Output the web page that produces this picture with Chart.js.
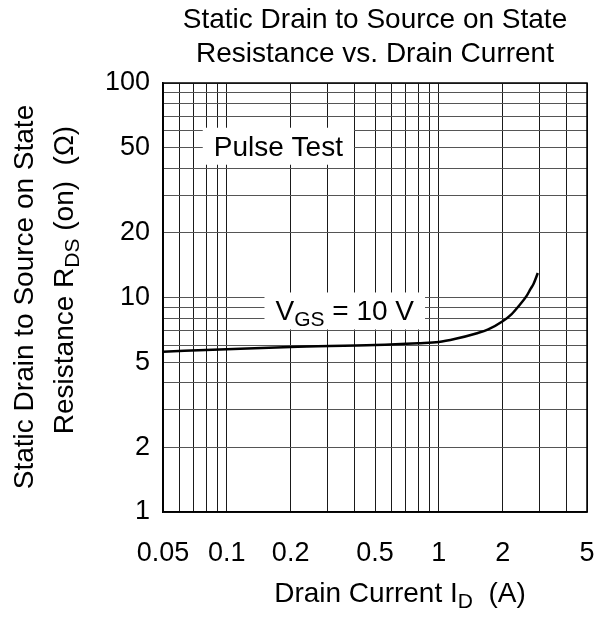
<!DOCTYPE html>
<html>
<head>
<meta charset="utf-8">
<script src="https://cdn.jsdelivr.net/npm/chart.js@4.4.1/dist/chart.umd.min.js"></script>
<style>
  body { margin: 0; background: #fff; }
  canvas { display: block; }
</style>
</head>
<body>
<canvas id="chart" width="606" height="621"></canvas>
<script>
// values (VGS = 10 V)
var drainCurrent = [0.05, 0.1, 0.2, 0.5, 0.8, 1.0, 1.2, 1.5, 1.7, 2.0, 2.2, 2.4, 2.6, 2.7, 2.8, 2.93];
var rdsOn        = [5.59, 5.74, 5.88, 6.0, 6.12, 6.2, 6.42, 6.8, 7.08, 7.75, 8.35, 9.2, 10.2, 10.9, 11.6, 13.0];

var xGridValues = [0.05, 0.06, 0.07, 0.08, 0.09, 0.1, 0.2, 0.3, 0.4, 0.5, 0.6, 0.7, 0.8, 0.9, 1, 2, 3, 4, 5];
var xTickLabels = [0.05, 0.1, 0.2, 0.5, 1, 2, 5];
var yGridValues = [1, 2, 3, 4, 5, 6, 7, 8, 9, 10, 20, 30, 40, 50, 60, 70, 80, 90, 100];
var yTickLabels = [1, 2, 5, 10, 20, 50, 100];

var FONT = '"Liberation Sans", Arial, sans-serif';
var TEXT_SIZE = 28;
var TICK_SIZE = 27;

// draw a line of text made of parts, some of them subscript
function drawRich(ctx, parts, cx, baseline, size) {
    var subSize = Math.round(size * 0.75);
    var total = 0;
    parts.forEach(function(p) {
        ctx.font = (p.sub ? subSize : size) + 'px ' + FONT;
        p.w = ctx.measureText(p.t).width;
        total += p.w;
    });
    var x = cx - total / 2;
    ctx.textAlign = 'left';
    ctx.textBaseline = 'alphabetic';
    parts.forEach(function(p) {
        ctx.font = (p.sub ? subSize : size) + 'px ' + FONT;
        ctx.fillText(p.t, x, baseline + (p.sub ? size * 0.2 : 0));
        x += p.w;
    });
    return total;
}

function boxedLabel(chart, parts, xv, yv) {
    var ctx = chart.ctx;
    var cx = chart.scales.x.getPixelForValue(xv);
    var cy = chart.scales.y.getPixelForValue(yv);
    var w = 0;
    parts.forEach(function(p) {
        ctx.font = (p.sub ? Math.round(TEXT_SIZE * 0.75) : TEXT_SIZE) + 'px ' + FONT;
        w += ctx.measureText(p.t).width;
    });
    ctx.fillStyle = '#fff';
    ctx.fillRect(cx - w / 2 - 11, cy - 18, w + 22, 37);
    ctx.fillStyle = '#000';
    drawRich(ctx, parts, cx, cy + 10, TEXT_SIZE);
}

var textPlugin = {
    id: 'textPlugin',
    beforeDatasetsDraw: function(chart) {
        var ctx = chart.ctx;
        ctx.save();
        boxedLabel(chart, [{t: 'Pulse Test'}], 0.175, 51);
        boxedLabel(chart, [{t: 'V'}, {t: 'GS', sub: true}, {t: ' = 10 V'}], 0.36, 8.7);
        ctx.restore();
    },
    afterDraw: function(chart) {
        var ctx = chart.ctx;
        var a = chart.chartArea;
        ctx.save();
        ctx.strokeStyle = '#000';
        ctx.lineWidth = 1.5;
        ctx.strokeRect(a.left, a.top, a.right - a.left, a.bottom - a.top);

        ctx.fillStyle = '#000';
        drawRich(ctx, [{t: 'Static Drain to Source on State'}], 375, 28, TEXT_SIZE);
        drawRich(ctx, [{t: 'Resistance vs. Drain Current'}], 375, 62, TEXT_SIZE);
        drawRich(ctx, [{t: 'Drain Current I'}, {t: 'D', sub: true}, {t: '  (A)'}], 400, 602, TEXT_SIZE);

        ctx.save();
        ctx.translate(33, 297);
        ctx.rotate(-Math.PI / 2);
        drawRich(ctx, [{t: 'Static Drain to Source on State'}], 0, 0, TEXT_SIZE);
        ctx.restore();

        ctx.save();
        ctx.translate(73, 280);
        ctx.rotate(-Math.PI / 2);
        drawRich(ctx, [{t: 'Resistance R'}, {t: 'DS', sub: true}, {t: ' (on)  (\u03A9)'}], 0, 0, TEXT_SIZE);
        ctx.restore();
        ctx.restore();
    }
};

var points = drainCurrent.map(function(x, i) { return {x: x, y: rdsOn[i]}; });

new Chart(document.getElementById('chart').getContext('2d'), {
    type: 'line',
    data: {
        datasets: [{
            data: points,
            borderColor: '#000',
            borderWidth: 2.5,
            pointRadius: 0,
            fill: false,
            cubicInterpolationMode: 'monotone'
        }]
    },
    options: {
        responsive: false,
        animation: false,
        layout: { padding: { top: 83, right: 19, left: 0, bottom: 0 } },
        plugins: {
            legend: { display: false },
            tooltip: { enabled: false },
            title: { display: false }
        },
        scales: {
            x: {
                type: 'logarithmic',
                min: 0.05,
                max: 5,
                afterBuildTicks: function(s) { s.ticks = xGridValues.map(function(v) { return {value: v}; }); },
                afterFit: function(s) {
                    s.height = 109;
                    s.paddingLeft = 0;
                    s.paddingRight = 0;
                },
                grid: { color: '#1a1a1a', lineWidth: 1, drawTicks: false },
                border: { color: '#000', width: 1.5 },
                ticks: {
                    autoSkip: false,
                    maxRotation: 0,
                    padding: 25,
                    color: '#000',
                    font: { family: FONT, size: TICK_SIZE },
                    callback: function(v) { return xTickLabels.indexOf(v) >= 0 ? String(v) : ''; }
                }
            },
            y: {
                type: 'logarithmic',
                min: 1,
                max: 100,
                afterBuildTicks: function(s) { s.ticks = yGridValues.map(function(v) { return {value: v}; }); },
                afterFit: function(s) { s.width = 163; },
                grid: { color: '#555', lineWidth: 1, drawTicks: false },
                border: { color: '#000', width: 1.5 },
                ticks: {
                    autoSkip: false,
                    padding: 13,
                    color: '#000',
                    font: { family: FONT, size: TICK_SIZE },
                    callback: function(v) { return yTickLabels.indexOf(v) >= 0 ? String(v) : ''; }
                }
            }
        }
    },
    plugins: [textPlugin]
});
</script>
</body>
</html>
